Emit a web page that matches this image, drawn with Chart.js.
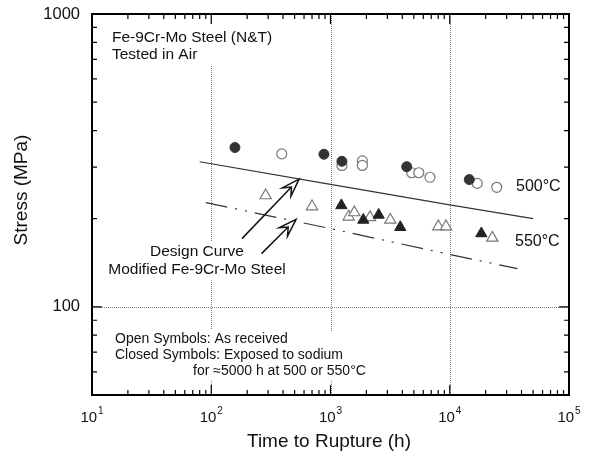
<!DOCTYPE html>
<html><head><meta charset="utf-8">
<script src="https://cdn.jsdelivr.net/npm/chart.js@4"></script>
<style>html,body{margin:0;padding:0;background:#fff;}canvas{display:block;}</style>
</head><body>
<canvas id="c" width="593" height="456"></canvas>
<script>
// ---- data (time to rupture in h, stress in MPa) ----
const closed500Time   = [158, 881, 1247, 4355, 14580];
const closed500Stress = [350, 332, 314, 301, 272];
const open500Time     = [390, 1247, 1850, 1850, 4800, 5500, 6825, 17020, 24770];
const open500Stress   = [333, 304, 315, 304, 287, 287, 277, 264, 256];
const closed550Time   = [1233, 1884, 2535, 3846, 18400];
const closed550Stress = [222, 198, 206, 187, 178];
const open550Time     = [286, 700, 1421, 1585, 2143, 3175, 8020, 9300, 22750];
const open550Stress   = [240, 220, 203, 210, 202, 198, 188, 188, 172];
const design500Time   = [80, 1000, 10000, 50000];
const design500Stress = [313, 262, 223, 200];
const design550Time   = [90, 1000, 10000, 37000];
const design550Stress = [227, 185, 151, 135];

// ---- axes / ticks ----
const xMin = 10, xMax = 100000, yMin = 50, yMax = 1000;
const xTickValues    = [10, 100, 1000, 10000, 100000];
const xTickExponents = ['1', '2', '3', '4', '5'];
const yTickValues    = [100, 1000];
const yTickLabels    = ['100', '1000'];
const xGridValues    = [100, 1000, 10000];
const yGridValues    = [100];

// annotation arrows (data coords): [time, stress]
const arrowFrom = [[181, 171], [264, 152]];
const arrowTo   = [[545, 273], [514, 199]];

const FONT = '"Liberation Sans", Arial, Helvetica, sans-serif';

function pts(ts, ss) { return ts.map((t, i) => ({x: t, y: ss[i]})); }

function textBox(ctx, lines, pad) {
  ctx.fillStyle = '#fff';
  lines.forEach(l => {
    ctx.font = l.size + 'px ' + FONT;
    const w = ctx.measureText(l.t).width;
    let x0 = l.x;
    if (l.align === 'center') x0 = l.x - w / 2;
    ctx.fillRect(x0 - pad, l.y - l.size * 0.6 - 1, w + 2 * pad, l.size * 1.2 + 2);
  });
  ctx.fillStyle = '#111';
  ctx.textBaseline = 'middle';
  lines.forEach(l => {
    ctx.font = l.size + 'px ' + FONT;
    ctx.textAlign = l.align || 'left';
    ctx.fillText(l.t, l.x, l.y);
  });
}

function drawArrow(ctx, x0, y0, x1, y1) {
  const dx = x1 - x0, dy = y1 - y0, L = Math.hypot(dx, dy);
  const ux = dx / L, uy = dy / L, nx = -uy, ny = ux;
  const hl = 18, hw = 6, notch = 11;
  const bx = x1 - ux * hl, by = y1 - uy * hl;
  const nX = x1 - ux * notch, nY = y1 - uy * notch;
  ctx.beginPath(); ctx.moveTo(x0, y0); ctx.lineTo(nX, nY); ctx.stroke();
  ctx.beginPath();
  ctx.moveTo(x1, y1);
  ctx.lineTo(bx + nx * hw, by + ny * hw);
  ctx.lineTo(nX, nY);
  ctx.lineTo(bx - nx * hw, by - ny * hw);
  ctx.closePath();
  ctx.fillStyle = '#fff'; ctx.fill(); ctx.stroke();
}

const decor = {
  id: 'decor',
  beforeDatasetsDraw(chart) {
    const {ctx, chartArea: a, scales: {x, y}} = chart;
    ctx.save();
    ctx.strokeStyle = '#7a7a7a'; ctx.lineWidth = 1; ctx.setLineDash([1, 1]);
    xGridValues.forEach(t => {
      const px = Math.round(x.getPixelForValue(t)) + 0.5;
      ctx.beginPath(); ctx.moveTo(px, a.top); ctx.lineTo(px, a.bottom); ctx.stroke();
    });
    yGridValues.forEach(s => {
      const py = Math.round(y.getPixelForValue(s)) + 0.5;
      ctx.beginPath(); ctx.moveTo(a.left, py); ctx.lineTo(a.right, py); ctx.stroke();
    });
    ctx.setLineDash([]);
    ctx.fillStyle = '#fff';
    ctx.fillRect(108, a.top + 1, 176, 51);
    ctx.fillRect(110, 331, 262, 49);
    textBox(ctx, [
      {t: 'Fe-9Cr-Mo Steel (N&T)', x: 112, y: 38, size: 15.5},
      {t: 'Tested in Air', x: 112, y: 55, size: 15.5}
    ], 2);
    textBox(ctx, [
      {t: 'Design Curve', x: 197, y: 252, size: 15.5, align: 'center'},
      {t: 'Modified Fe-9Cr-Mo Steel', x: 197, y: 270, size: 15.5, align: 'center'}
    ], 2);
    textBox(ctx, [
      {t: 'Open Symbols: As received', x: 115, y: 339, size: 14},
      {t: 'Closed Symbols: Exposed to sodium', x: 115, y: 355, size: 14},
      {t: 'for \u22485000 h at 500 or 550\u00B0C', x: 193, y: 371, size: 14}
    ], 2);
    textBox(ctx, [
      {t: '500\u00B0C', x: 516, y: 187, size: 16},
      {t: '550\u00B0C', x: 515, y: 242, size: 16}
    ], 1);
    ctx.restore();
  },
  afterDatasetsDraw(chart) {
    const {ctx, chartArea: a, scales: {x, y}} = chart;
    ctx.save();
    ctx.strokeStyle = '#111'; ctx.lineWidth = 1.5;
    arrowFrom.forEach((f, i) => {
      const t = arrowTo[i];
      drawArrow(ctx, x.getPixelForValue(f[0]), y.getPixelForValue(f[1]),
                     x.getPixelForValue(t[0]), y.getPixelForValue(t[1]));
    });
    ctx.strokeStyle = '#000'; ctx.lineWidth = 2;
    ctx.strokeRect(a.left, a.top, a.right - a.left, a.bottom - a.top);
    ctx.lineWidth = 1.2;
    const tick = (px, len, vertical) => {
      ctx.beginPath();
      if (vertical) {
        ctx.moveTo(px, a.bottom); ctx.lineTo(px, a.bottom - len);
        ctx.moveTo(px, a.top); ctx.lineTo(px, a.top + len);
      } else {
        ctx.moveTo(a.left, px); ctx.lineTo(a.left + len, px);
        ctx.moveTo(a.right, px); ctx.lineTo(a.right - len, px);
      }
      ctx.stroke();
    };
    for (let e = 1; e <= 4; e++) {
      const d = Math.pow(10, e);
      for (let m = 2; m <= 9; m++) tick(x.getPixelForValue(m * d), 5, true);
    }
    xTickValues.forEach(v => tick(x.getPixelForValue(v), 10, true));
    [60, 70, 80, 90, 200, 300, 400, 500, 600, 700, 800, 900].forEach(v => tick(y.getPixelForValue(v), 5, false));
    yTickValues.forEach(v => tick(y.getPixelForValue(v), 10, false));
    ctx.fillStyle = '#111';
    ctx.font = '16.5px ' + FONT; ctx.textAlign = 'right'; ctx.textBaseline = 'middle';
    yTickValues.forEach((v, i) => ctx.fillText(yTickLabels[i], 80, y.getPixelForValue(v)));
    xTickValues.forEach((v, i) => {
      const px = x.getPixelForValue(v);
      ctx.font = '15px ' + FONT;
      const wb = ctx.measureText('10').width;
      ctx.font = '10px ' + FONT;
      const we = ctx.measureText(xTickExponents[i]).width;
      const x0 = px - (wb + we + 1) / 2;
      ctx.textAlign = 'left';
      ctx.font = '15px ' + FONT; ctx.fillText('10', x0, 418);
      ctx.font = '10px ' + FONT; ctx.fillText(xTickExponents[i], x0 + wb + 1, 411);
    });
    ctx.font = '19px ' + FONT; ctx.textAlign = 'center'; ctx.textBaseline = 'middle';
    ctx.fillText('Time to Rupture (h)', 329, 442);
    ctx.translate(22, 190); ctx.rotate(-Math.PI / 2);
    ctx.fillText('Stress (MPa)', 0, 0);
    ctx.restore();
  }
};

new Chart(document.getElementById('c'), {
  type: 'scatter',
  data: {
    datasets: [
      {label: 'Closed 500', data: pts(closed500Time, closed500Stress), pointStyle: 'circle', pointRadius: 5,
       backgroundColor: '#333', borderColor: '#333', borderWidth: 1},
      {label: 'Closed 550', data: pts(closed550Time, closed550Stress), pointStyle: 'triangle', pointRadius: 6.5,
       backgroundColor: '#222', borderColor: '#222', borderWidth: 1},
      {label: 'Open 500', data: pts(open500Time, open500Stress), pointStyle: 'circle', pointRadius: 5,
       backgroundColor: '#fff', borderColor: '#777', borderWidth: 1.2},
      {label: 'Open 550', data: pts(open550Time, open550Stress), pointStyle: 'triangle', pointRadius: 6.5,
       backgroundColor: '#fff', borderColor: '#777', borderWidth: 1.2},
      {label: 'Design 500', data: pts(design500Time, design500Stress), showLine: true, pointRadius: 0,
       borderColor: '#333', borderWidth: 1.2, fill: false, tension: 0},
      {label: 'Design 550', data: pts(design550Time, design550Stress), showLine: true, pointRadius: 0,
       borderColor: '#333', borderWidth: 1.2, fill: false, tension: 0, borderDash: [22, 8, 2, 8, 2, 8]}
    ]
  },
  options: {
    responsive: false,
    animation: false,
    events: [],
    layout: {padding: {left: 92, top: 14, right: 24, bottom: 61}},
    plugins: {legend: {display: false}, tooltip: {enabled: false}},
    scales: {
      x: {type: 'logarithmic', min: xMin, max: xMax, display: false},
      y: {type: 'logarithmic', min: yMin, max: yMax, display: false}
    }
  },
  plugins: [decor]
});
</script>
</body></html>
